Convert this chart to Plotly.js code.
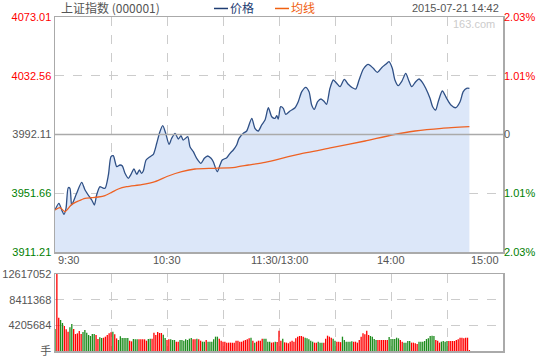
<!DOCTYPE html>
<html><head><meta charset="utf-8">
<script src="https://cdn.plot.ly/plotly-3.0.1.min.js"></script>
<style>html,body{margin:0;padding:0;background:#fff}#c{width:540px;height:360px}</style>
</head><body><div id="c"></div>
<script>
// minutes since 9:30 (trading minutes; 120 = 11:30/13:00, 240 = 15:00)
const priceT = [0,2.1,3.6,4.8,5.9,7.1,8.0,8.9,9.8,11.6,14.3,16.1,17.8,19.7,21.1,22.3,24.1,25.3,26.8,28.6,30.0,31.2,33.1,34.8,36.1,37.5,39.3,40.7,42.3,43.8,45.2,46.4,47.3,48.8,50.9,52.7,54.5,56.2,57.7,59.3,61.1,62.5,64.3,66.1,67.5,68.7,71.1,72.3,74.1,75.9,78.2,80.0,81.8,83.6,84.8,86.9,88.4,89.6,92.0,93.8,95.5,97.3,98.6,100.9,102.7,105.4,107.1,108.9,110.7,112.5,114.3,116.1,117.9,118.8,119.6,120.9,122.3,123.6,125.9,128.6,130.3,132.2,134.3,136.1,137.5,138.9,140.7,142.5,144.3,145.5,147.3,149.1,150.9,152.7,155.0,157.1,159.3,161.1,162.9,165.2,167.8,170.5,172.7,175.0,177.2,178.9,180.7,182.1,183.9,185.7,187.9,189.6,191.1,193.2,195.0,196.8,198.6,200.9,202.3,203.9,205.3,207.5,209.8,212.1,214.7,217.0,218.7,220.5,222.0];
const priceV = [3940.13,3944.74,3940.13,3937.17,3941.30,3955.48,3955.07,3943.57,3945.84,3951.63,3959.20,3953.90,3950.46,3947.01,3943.57,3950.46,3956.17,3955.48,3955.07,3964.23,3976.83,3977.51,3969.94,3971.11,3970.42,3965.40,3961.95,3964.71,3968.36,3964.71,3967.67,3965.40,3966.98,3974.55,3976.83,3978.48,3986.05,3994.04,3998.17,3992.94,3985.36,3989.49,3992.94,3989.01,3991.28,3988.32,3990.60,3983.71,3980.27,3975.72,3972.28,3975.72,3977.31,3975.72,3973.38,3966.50,3971.11,3974.55,3976.14,3979.17,3981.44,3984.88,3989.49,3992.94,3994.52,4003.26,3996.38,3994.52,3998.65,4002.09,4010.56,4004.36,4003.26,4005.05,4002.78,4011.25,4010.15,4006.02,4008.29,4010.56,4014.69,4021.58,4024.61,4021.58,4012.42,4009.46,4014.69,4016.55,4014.69,4012.90,4023.92,4029.63,4027.36,4025.02,4030.11,4026.67,4024.33,4023.44,4029.63,4037.21,4040.44,4037.69,4034.93,4038.10,4040.44,4042.23,4037.69,4029.63,4025.71,4028.46,4034.25,4028.94,4025.02,4028.46,4030.32,4028.05,4023.92,4017.03,4011.25,4008.98,4014.69,4022.06,4017.03,4012.42,4010.56,4014.69,4021.58,4023.92,4023.92];
const avgT = [0,2.7,5.4,9.0,12.5,16.1,19.7,23.2,26.8,30.4,33.9,38.4,46.4,53.6,60.7,67.9,75.0,85.7,96.4,103.6,112.5,130.3,148.2,166.1,180.4,192.9,207.2,222.0];
const avgV = [3940.13,3941.71,3939.00,3944.05,3946.33,3948.18,3948.60,3949.08,3950.05,3952.31,3954.59,3956.17,3957.55,3959.61,3963.54,3966.50,3968.36,3968.84,3969.53,3971.11,3972.97,3978.48,3983.02,3987.63,3991.77,3994.52,3996.38,3997.48];
// per-minute volume, millions of lots (手)
const volume = [3.60,12.617,5.46,5.08,4.59,4.10,3.55,3.17,3.88,4.42,
3.60,2.78,2.89,3.28,2.78,3.11,3.44,3.00,2.62,2.46,
2.78,2.78,2.62,1.97,2.24,2.13,2.18,2.35,2.62,2.89,
3.06,3.17,2.73,2.07,1.80,2.40,2.13,2.13,2.13,2.13,
1.69,1.58,1.97,1.91,1.91,1.91,1.91,1.91,1.91,1.69,
1.97,2.02,2.02,3.00,2.62,3.11,2.95,2.95,2.68,2.13,
1.80,1.91,1.91,1.80,1.80,1.53,1.53,1.80,1.80,1.69,
1.91,1.80,2.02,2.13,1.91,1.91,2.02,1.91,1.69,1.53,
1.53,1.80,1.53,1.53,1.53,1.91,2.35,2.35,2.02,1.69,
1.53,1.53,1.37,1.37,1.37,1.37,1.37,1.69,1.69,1.53,
1.53,1.69,1.80,1.91,2.07,2.18,1.69,1.37,1.53,1.69,
1.69,2.02,2.02,2.02,1.53,1.53,1.37,1.42,1.53,1.48,
3.33,1.69,2.02,1.42,1.37,1.26,1.53,1.69,1.53,2.07,
2.35,2.46,2.46,2.35,2.18,2.07,1.91,1.69,1.53,1.37,
1.37,1.53,1.37,1.37,1.37,2.02,2.51,2.35,2.18,2.02,
1.69,1.53,1.53,1.45,2.35,1.80,1.53,1.53,1.53,1.60,
1.53,1.53,1.37,1.80,2.35,2.89,2.73,3.33,2.62,2.46,
2.35,1.97,1.80,1.80,1.80,1.80,1.80,1.80,1.80,2.29,
1.97,1.97,1.97,2.18,2.07,1.80,1.53,1.37,1.37,1.64,
1.64,1.37,1.37,1.26,1.15,1.53,1.53,1.53,1.64,1.97,
2.07,2.46,2.51,2.46,1.80,1.69,1.37,1.53,1.64,1.53,
1.64,1.64,1.64,1.64,1.64,1.80,1.91,2.18,2.18,2.10,
2.18,2.18,0.16];
// 1 = up minute (red), 0 = down minute (green)
const volUp = [0,1,1,0,0,1,1,1,0,0,
1,1,1,1,1,0,0,0,0,0,
0,0,1,1,0,0,1,1,1,1,
1,0,1,1,0,0,0,0,0,0,
1,1,0,0,0,1,1,1,1,1,
0,0,1,1,1,1,1,1,0,0,
1,1,0,0,0,1,1,0,0,0,
0,0,0,0,1,1,0,1,1,0,
0,1,0,0,0,0,0,0,1,1,
1,1,1,1,1,1,1,1,1,1,
1,1,1,1,1,0,1,0,1,1,
1,1,0,0,0,0,1,1,0,1,
1,1,0,1,1,1,1,1,1,1,
1,1,1,1,0,0,0,0,0,1,
1,0,0,0,1,1,1,1,1,0,
0,1,1,1,0,0,0,0,0,0,
1,1,1,1,1,1,1,1,1,0,
0,0,0,1,1,1,1,1,1,0,
0,0,0,0,0,1,1,0,0,0,
0,1,1,1,1,0,0,0,0,0,
0,0,0,0,1,1,1,0,0,0,
0,1,1,1,1,1,1,1,1,1,
1,1,1];
const priceTicks = [3911.21,3951.66,3992.11,4032.56,4073.01];
const priceTickText = ['3911.21','3951.66','3992.11','4032.56','4073.01'];
const pctTickText = ['2.03%','1.01%','0','1.01%','2.03%'];
const tickColors = ['#008000','#008000','#555555','#ff0000','#ff0000'];
const volTicks = [0,4.205684,8.411368,12.617052];
const volTickText = ['手','4205684','8411368','12617052'];
const gridTimes = [30,60,90,120,150,180,210];
const timeTicks = [0,60,120,180,240];
const timeLabels = ['9:30','10:30','11:30/13:00','14:00','15:00'];
const titleText = '上证指数 (000001)';
const stampText = '2015-07-21 14:42';
const legendNames = ['价格','均线'];
const legendColors = ['#1f3d73','#f06010'];

const minuteIdx = volume.map((v,i)=>i);
const volColors = volUp.map(u => u ? '#ff0000' : '#1e8c1e');
const colored = (txt, i) => '<span style="color:' + tickColors[i] + '">' + txt + '</span>';

const FONT = 'Liberation Sans, Arial, Noto Sans CJK SC, sans-serif';
const CJK = 'Noto Sans CJK SC, Liberation Sans, sans-serif';

const traces = [
  {x: priceT, y: priceV, type: 'scatter', mode: 'lines', xaxis: 'x', yaxis: 'y',
   line: {color: '#2f5086', width: 1.3, shape: 'spline', smoothing: 0.7},
   fill: 'tozeroy', fillcolor: '#dce7f9', hoverinfo: 'skip'},
  {x: avgT, y: avgV, type: 'scatter', mode: 'lines', xaxis: 'x', yaxis: 'y',
   line: {color: '#ee6224', width: 1.3, shape: 'spline', smoothing: 0.6}, hoverinfo: 'skip'},
  {x: priceT, y: priceV, type: 'scatter', mode: 'lines', xaxis: 'x', yaxis: 'y2',
   line: {color: 'rgba(0,0,0,0)', width: 0}, hoverinfo: 'skip'},
  {x: minuteIdx, y: volume, type: 'bar', xaxis: 'x2', yaxis: 'y3',
   marker: {color: volColors, line: {width: 0}}, hoverinfo: 'skip'}
];

const gridStyle = {gridcolor: '#cccccc', griddash: 'dash', gridwidth: 1};
const layout = {
  width: 540, height: 360,
  margin: {l: 55, r: 37, t: 17, b: 9, pad: 0},
  paper_bgcolor: '#ffffff', plot_bgcolor: '#ffffff',
  showlegend: false, bargap: 0.3,
  font: {family: FONT, size: 11, color: '#555555'},
  xaxis: Object.assign({domain: [0,1], anchor: 'y', range: [0,240], tickvals: gridTimes,
    showticklabels: false, ticks: '', showgrid: true, zeroline: false,
    showline: true, mirror: true, linecolor: '#aaaaaa', linewidth: 1.5}, gridStyle),
  yaxis: Object.assign({domain: [0.2964, 1], anchor: 'x', range: [3911.21, 4073.01],
    tickvals: priceTicks, ticktext: priceTickText.map(colored), ticks: '',
    showgrid: true, zeroline: false, showline: true, mirror: true,
    linecolor: '#aaaaaa', linewidth: 1.5, tickfont: {size: 11}}, gridStyle),
  yaxis2: {overlaying: 'y', side: 'right', anchor: 'x', range: [3911.21, 4073.01],
    tickvals: priceTicks, ticktext: pctTickText.map(colored), ticks: '',
    showgrid: false, zeroline: false, showline: false, tickfont: {size: 11}},
  xaxis2: Object.assign({domain: [0,1], anchor: 'y3', range: [0,240], tickvals: gridTimes,
    showticklabels: false, ticks: '', showgrid: true, zeroline: false,
    showline: true, mirror: true, linecolor: '#aaaaaa', linewidth: 1.5}, gridStyle),
  yaxis3: Object.assign({domain: [0, 0.2305], anchor: 'x2', range: [0, 12.617052],
    tickvals: volTicks, ticktext: volTickText, ticks: '', showgrid: true, zeroline: false,
    showline: true, mirror: true, linecolor: '#aaaaaa', linewidth: 1.5,
    tickfont: {size: 11, color: '#555555'}}, gridStyle),
  shapes: [
    {type: 'line', xref: 'x domain', yref: 'y', x0: 0, x1: 1, y0: priceTicks[2], y1: priceTicks[2],
     line: {color: '#aaaaaa', width: 1.5}, layer: 'above'},
    {type: 'line', xref: 'paper', yref: 'paper', x0: 0.3549, x1: 0.3862, y0: 1.0255, y1: 1.0255,
     line: {color: legendColors[0], width: 1.5}},
    {type: 'line', xref: 'paper', yref: 'paper', x0: 0.4911, x1: 0.5223, y0: 1.0255, y1: 1.0255,
     line: {color: legendColors[1], width: 1.5}}
  ],
  annotations: [
    {text: titleText, xref: 'paper', yref: 'paper', x: 0.008, y: 1.027, xanchor: 'left', yanchor: 'middle',
     showarrow: false, font: {family: CJK, size: 12, color: '#555555'}},
    {text: legendNames[0], xref: 'paper', yref: 'paper', x: 0.3862, y: 1.027, xanchor: 'left', yanchor: 'middle',
     showarrow: false, font: {family: CJK, size: 12, color: legendColors[0]}},
    {text: legendNames[1], xref: 'paper', yref: 'paper', x: 0.5223, y: 1.027, xanchor: 'left', yanchor: 'middle',
     showarrow: false, font: {family: CJK, size: 12, color: legendColors[1]}},
    {text: stampText, xref: 'paper', yref: 'paper', x: 0.9955, y: 1.027, xanchor: 'right', yanchor: 'middle',
     showarrow: false, font: {family: FONT, size: 11, color: '#555555'}},
    {text: '163.com', xref: 'paper', yref: 'paper', x: 0.987, y: 0.979, xanchor: 'right', yanchor: 'middle',
     showarrow: false, font: {family: FONT, size: 11, color: '#cccccc'}}
  ]
};
timeTicks.forEach((t, i) => {
  const anchor = i === 0 ? 'left' : (i === timeTicks.length - 1 ? 'right' : 'center');
  layout.annotations.push({text: timeLabels[i], xref: 'x', yref: 'paper', x: t, y: 0.2725,
    xanchor: anchor, yanchor: 'middle', showarrow: false,
    xshift: i === 0 ? 1 : (i === timeTicks.length - 1 ? -2 : 0),
    font: {family: FONT, size: 11, color: '#555555'}});
});

Plotly.newPlot('c', traces, layout, {staticPlot: true, displayModeBar: false});
</script>
</body></html>
